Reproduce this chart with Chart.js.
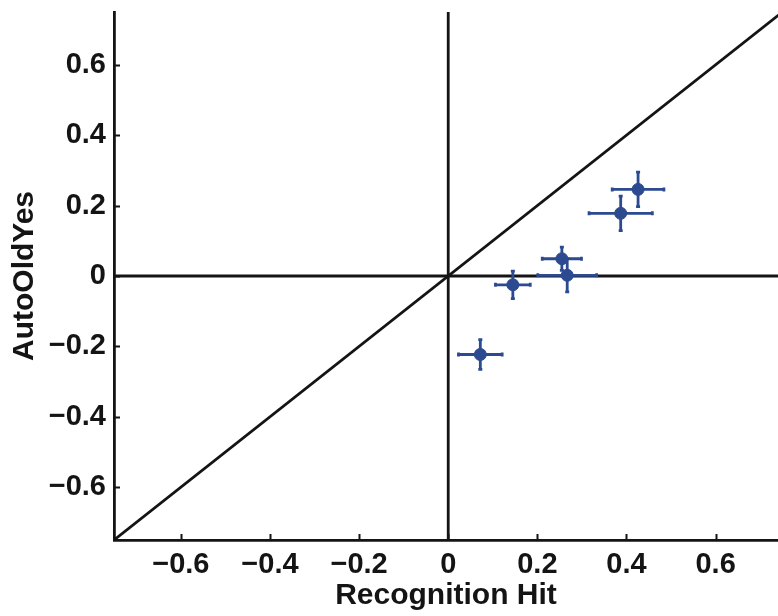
<!DOCTYPE html>
<html>
<head>
<meta charset="utf-8">
<script src="https://cdn.jsdelivr.net/npm/chart.js@4"></script>
<style>
  body { margin: 0; background: #fff; }
  canvas { display: block; }
</style>
</head>
<body>
<canvas id="chart" width="778" height="616"></canvas>
<script>
// recognition hit vs. auto "old" yes responses, with SEM in both directions
const hitX = [0.426, 0.387, 0.255, 0.267, 0.145, 0.072];
const oldYesY = [0.246, 0.178, 0.049, 0.002, -0.025, -0.223];
const hitErr = [0.058, 0.071, 0.044, 0.066, 0.039, 0.049];
const oldYesErr = [0.049, 0.049, 0.033, 0.047, 0.039, 0.042];

const xTicks = [-0.6, -0.4, -0.2, 0, 0.2, 0.4, 0.6];
const yTicks = [-0.6, -0.4, -0.2, 0, 0.2, 0.4, 0.6];

const dotBlue = '#2c4a8f';
const ink = '#141414';
const fontFamily = '"Liberation Sans", Arial, sans-serif';

function fmt(v) {
    if (Math.abs(v) < 1e-9) return '0';
    return (v < 0 ? '\u2212' : '') + Math.abs(v).toFixed(1);
}

const errorBars = {
    id: 'errorBars',
    beforeDatasetDraw(chart, args) {
        if (args.index !== 0) return;
        const { ctx, scales: { x, y } } = chart;
        const cap = 2;
        ctx.save();
        ctx.strokeStyle = dotBlue;
        ctx.lineWidth = 2.8;
        hitX.forEach((v, i) => {
            const px = x.getPixelForValue(v);
            const py = y.getPixelForValue(oldYesY[i]);
            const x0 = x.getPixelForValue(v - hitErr[i]);
            const x1 = x.getPixelForValue(v + hitErr[i]);
            const y0 = y.getPixelForValue(oldYesY[i] - oldYesErr[i]);
            const y1 = y.getPixelForValue(oldYesY[i] + oldYesErr[i]);
            ctx.beginPath();
            ctx.moveTo(x0, py); ctx.lineTo(x1, py);
            ctx.moveTo(px, y0); ctx.lineTo(px, y1);
            ctx.moveTo(x0, py - cap); ctx.lineTo(x0, py + cap);
            ctx.moveTo(x1, py - cap); ctx.lineTo(x1, py + cap);
            ctx.moveTo(px - cap, y0); ctx.lineTo(px + cap, y0);
            ctx.moveTo(px - cap, y1); ctx.lineTo(px + cap, y1);
            ctx.stroke();
        });
        ctx.restore();
    }
};

// tick marks pointing into the plot
const innerTicks = {
    id: 'innerTicks',
    afterDraw(chart) {
        const { ctx, chartArea, scales: { x, y } } = chart;
        const len = 6;
        ctx.save();
        ctx.strokeStyle = ink;
        ctx.lineWidth = 2;
        ctx.beginPath();
        xTicks.forEach(v => {
            const px = Math.round(x.getPixelForValue(v)) + 0.5;
            ctx.moveTo(px, chartArea.bottom);
            ctx.lineTo(px, chartArea.bottom - len);
        });
        yTicks.forEach(v => {
            const py = Math.round(y.getPixelForValue(v)) + 0.5;
            ctx.moveTo(chartArea.left, py);
            ctx.lineTo(chartArea.left + len, py);
        });
        ctx.stroke();
        ctx.restore();
    }
};

function refLine(points) {
    return {
        type: 'line',
        data: points,
        borderColor: ink,
        borderWidth: 2.8,
        pointRadius: 0,
        fill: false
    };
}

new Chart(document.getElementById('chart'), {
    type: 'scatter',
    data: {
        datasets: [
            {
                data: hitX.map((v, i) => ({ x: v, y: oldYesY[i] })),
                backgroundColor: dotBlue,
                borderColor: dotBlue,
                borderWidth: 1,
                pointRadius: 6,
                pointHoverRadius: 6
            },
            refLine([{ x: -0.75, y: -0.75 }, { x: 0.75, y: 0.75 }]),
            refLine([{ x: -0.75, y: 0 }, { x: 0.75, y: 0 }]),
            refLine([{ x: 0, y: -0.75 }, { x: 0, y: 0.75 }])
        ]
    },
    options: {
        responsive: false,
        animation: false,
        layout: { autoPadding: false, padding: { top: 12, right: 0, left: 0, bottom: 0 } },
        plugins: {
            legend: { display: false },
            tooltip: { enabled: false }
        },
        scales: {
            x: {
                type: 'linear',
                min: -0.75,
                max: 0.74,
                afterBuildTicks: scale => { scale.ticks = xTicks.map(v => ({ value: v })); },
                afterFit: scale => {
                    scale.height = 76;
                    scale.paddingLeft = 0;
                    scale.paddingRight = 0;
                },
                grid: { drawOnChartArea: false, drawTicks: false },
                border: { display: true, color: ink, width: 2.8 },
                ticks: {
                    padding: 8,
                    color: ink,
                    font: { family: fontFamily, size: 29, weight: 'bold' },
                    callback: v => fmt(v)
                },
                title: {
                    display: true,
                    text: 'Recognition Hit',
                    color: ink,
                    padding: { top: 0, bottom: 2 },
                    font: { family: fontFamily, size: 30, weight: 'bold' }
                }
            },
            y: {
                type: 'linear',
                min: -0.75,
                max: 0.75,
                afterBuildTicks: scale => { scale.ticks = yTicks.map(v => ({ value: v })); },
                afterFit: scale => {
                    scale.width = 114;
                    scale.paddingTop = 0;
                    scale.paddingBottom = 0;
                },
                grid: { drawOnChartArea: false, drawTicks: false },
                border: { display: true, color: ink, width: 2.8 },
                ticks: {
                    padding: 8,
                    color: ink,
                    font: { family: fontFamily, size: 29, weight: 'bold' },
                    callback: v => fmt(v)
                },
                title: {
                    display: true,
                    text: 'AutoOldYes',
                    color: ink,
                    padding: { top: 7, bottom: 0 },
                    font: { family: fontFamily, size: 30, weight: 'bold' }
                }
            }
        }
    },
    plugins: [errorBars, innerTicks]
});
</script>
</body>
</html>
